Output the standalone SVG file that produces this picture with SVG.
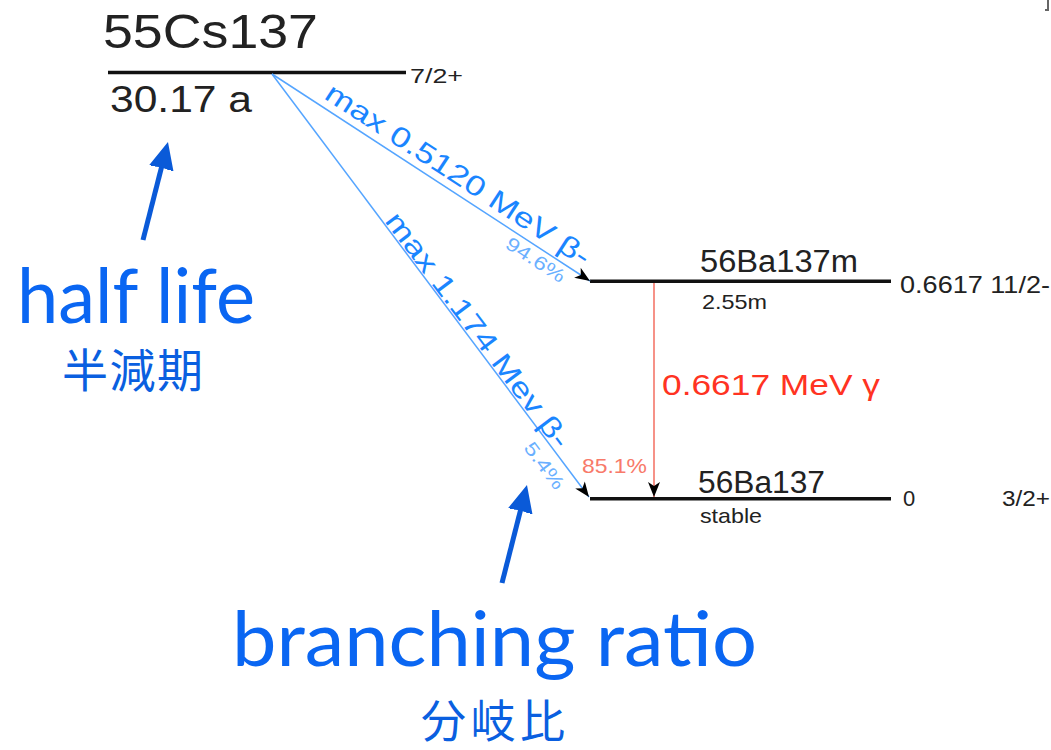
<svg xmlns="http://www.w3.org/2000/svg" width="1051" height="750" viewBox="0 0 1051 750">
  <style>
    .lvl { stroke: #111; stroke-width: 3.5; fill: none; }
    .lbl { font-family: "Liberation Sans", Arial, sans-serif; fill: #222; }
    .beta { stroke: #55a5ff; stroke-width: 1.5; fill: none; }
    .btxt { font-family: "Liberation Sans", Arial, sans-serif; fill: #1a85ff; font-size: 28px; }
    .pct { font-family: "Liberation Sans", Arial, sans-serif; fill: #6ab0ff; font-size: 19px; }
    .gam { stroke: #f26455; stroke-width: 1.4; fill: none; }
    .call { font-family: Lato, "Noto Sans", sans-serif; fill: #0a66f2; }
    .cjk { font-family: "Noto Sans CJK JP", "Noto Sans CJK SC", sans-serif; fill: #0a5fe0; }
    .carrow { stroke: #0a5ad8; stroke-width: 5; fill: none; }
  </style>
  <defs>
    <marker id="ah" viewBox="-16 -7 17 14" markerWidth="17" markerHeight="14" refX="0" refY="0" orient="auto" markerUnits="userSpaceOnUse">
      <path d="M0,0 L-15,-6 L-11,0 L-15,6 Z" fill="#000"/>
    </marker>
    <marker id="ch" viewBox="-2 -14 30 28" markerWidth="30" markerHeight="28" refX="0" refY="0" orient="auto" markerUnits="userSpaceOnUse">
      <path d="M-1,0 L-3,-13 L25,0 L-3,13 Z" fill="#0a5ad8"/>
    </marker>
  </defs>

  <g id="node-cs137">
    <line class="lvl" x1="108" y1="72.5" x2="406" y2="72.5"/>
    <text class="lbl" x="103" y="48" font-size="49" textLength="215" lengthAdjust="spacingAndGlyphs">55Cs137</text>
    <text class="lbl" x="110" y="112" font-size="37" textLength="142" lengthAdjust="spacingAndGlyphs">30.17 a</text>
    <text class="lbl" x="410" y="83" font-size="21" fill="#333" textLength="53" lengthAdjust="spacingAndGlyphs">7/2+</text>
  </g>

  <g id="node-ba137m">
    <line class="lvl" x1="590" y1="281.3" x2="891" y2="281.3"/>
    <text class="lbl" x="700" y="272" font-size="31" fill="#333" textLength="158" lengthAdjust="spacingAndGlyphs">56Ba137m</text>
    <text class="lbl" x="702" y="309" font-size="21" fill="#444" textLength="65" lengthAdjust="spacingAndGlyphs">2.55m</text>
    <text class="lbl" x="900" y="293" font-size="24" fill="#333" textLength="150" lengthAdjust="spacingAndGlyphs">0.6617 11/2-</text>
  </g>

  <g id="node-ba137">
    <line class="lvl" x1="590" y1="498.7" x2="891" y2="498.7"/>
    <text class="lbl" x="698" y="493" font-size="31" fill="#333" textLength="127" lengthAdjust="spacingAndGlyphs">56Ba137</text>
    <text class="lbl" x="700" y="523" font-size="21" fill="#444" textLength="62" lengthAdjust="spacingAndGlyphs">stable</text>
    <text class="lbl" x="903" y="506" font-size="22" fill="#333">0</text>
    <text class="lbl" x="1002" y="506" font-size="22" fill="#333" textLength="48" lengthAdjust="spacingAndGlyphs">3/2+</text>
  </g>

  <g id="connectors">
    <line class="beta" x1="272" y1="74" x2="590" y2="281" marker-end="url(#ah)"/>
    <line class="beta" x1="272" y1="74" x2="589" y2="497" marker-end="url(#ah)"/>
    <line class="gam" x1="654" y1="283" x2="654" y2="497" marker-end="url(#ah)"/>
    <text class="btxt" transform="translate(323,98) rotate(33.06)" textLength="310" lengthAdjust="spacingAndGlyphs">max 0.5120 MeV β-</text>
    <text class="pct" transform="translate(504,247) rotate(33.06)" textLength="67" lengthAdjust="spacingAndGlyphs">94.6%</text>
    <text class="btxt" transform="translate(384,221) rotate(53.07)" textLength="287" lengthAdjust="spacingAndGlyphs">max 1.174 Mev β-</text>
    <text class="pct" transform="translate(523,448) rotate(53.07)" textLength="54" lengthAdjust="spacingAndGlyphs">5.4%</text>
    <text x="662" y="395" font-family="Liberation Sans, Arial, sans-serif" font-size="30" fill="#ff3322" textLength="218" lengthAdjust="spacingAndGlyphs">0.6617 MeV γ</text>
    <text x="582" y="473" font-family="Liberation Sans, Arial, sans-serif" font-size="21" fill="#f87a6a" textLength="65" lengthAdjust="spacingAndGlyphs">85.1%</text>
  </g>

  <g id="callout-halflife">
    <line class="carrow" x1="143" y1="240" x2="161.8" y2="166.2" marker-end="url(#ch)"/>
    <text class="call" x="17" y="323" font-size="76" textLength="238" lengthAdjust="spacingAndGlyphs">half life</text>
    <text class="cjk" x="62" y="387" font-size="46" textLength="141" lengthAdjust="spacing">半減期</text>
  </g>

  <g id="callout-branching">
    <line class="carrow" x1="502" y1="583" x2="520.8" y2="509.2" marker-end="url(#ch)"/>
    <text class="call" x="232" y="666" font-size="76" textLength="525" lengthAdjust="spacingAndGlyphs">branching ratio</text>
    <text class="cjk" x="421" y="738" font-size="45" textLength="144" lengthAdjust="spacing">分岐比</text>
  </g>

  <path d="M1048,0 V10 H1045" stroke="#666" stroke-width="2" fill="none"/>
</svg>
